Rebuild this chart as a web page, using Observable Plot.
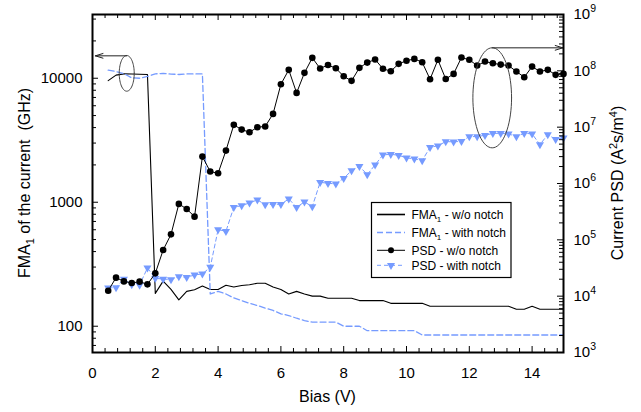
<!DOCTYPE html>
<html><head><meta charset="utf-8">
<script src="https://cdn.jsdelivr.net/npm/d3@7"></script>
<script src="https://cdn.jsdelivr.net/npm/@observablehq/plot@0.6"></script>
<style>body{margin:0;background:#fff}</style>
</head><body><div id="chart"></div>
<script>
// ---------- data ----------
const bias = [0.5,0.75,1,1.25,1.5,1.75,2,2.25,2.5,2.75,3,3.25,3.5,3.75,4,4.25,4.5,4.75,5,5.25,5.5,5.75,6,6.25,6.5,6.75,7,7.25,7.5,7.75,8,8.25,8.5,8.75,9,9.25,9.5,9.75,10,10.25,10.5,10.75,11,11.25,11.5,11.75,12,12.25,12.5,12.75,13,13.25,13.5,13.75,14,14.25,14.5,14.75,15];
// FMA1 (GHz), left axis
const fmaWithout = [9570,10600,10840,10810,10760,10720,
  184,231,198,163,191,197,211,198,
  198,214,207,213,216,222,222,207,
  198,182,191,182,175,175,168,168,
  168,168,161,161,161,161,153,153,
  153,153,153,145,145,145,145,145,
  145,145,145,145,145,145,137,137,
  145,137,137,137,137];
const fmaWith = [11640,11320,10910,10070,10000,10330,
  10840,10960,10810,10720,10840,10840,10840,182,
  191,182,169,161,153,147,140,134,
  126,122,116,111,108,108,108,108,
  100,100,100,92,92,92,92,92,
  92,92,85,85,85,85,85,85,
  85,85,85,85,85,85,85,85,
  85,85,85,85,85];
// Current PSD (A^2 s/m^4), right axis
const psdWithout = [1.25e4,2.13e4,1.83e4,1.71e4,1.81e4,1.62e4,
  2.54e4,6.6e4,1.25e5,4.34e5,3.53e5,2.58e5,3.0e6,1.63e6,
  1.52e6,3.84e6,1.10e7,9.06e6,8.13e6,9.98e6,1.03e7,1.72e7,
  5.78e7,1.04e8,4.06e7,9.2e7,1.70e8,1.10e8,1.27e8,1.11e8,
  8.0e7,6.64e7,1.13e8,1.40e8,1.59e8,1.09e8,9.84e7,1.33e8,
  1.51e8,1.63e8,1.42e8,7.1e7,1.57e8,7.14e7,8.83e7,1.72e8,
  1.57e8,1.24e8,1.46e8,1.36e8,1.29e8,1.24e8,9.73e7,7.71e7,
  1.19e8,9.73e7,1.04e8,8.49e7,8.83e7];
const psdWith = [1.40e4,1.42e4,2.02e4,1.60e4,1.58e4,3.17e4,
  2.07e4,2.02e4,1.96e4,2.22e4,2.16e4,2.38e4,2.48e4,3.27e4,
  1.52e5,1.42e5,3.78e5,4.05e5,4.52e5,5.12e5,4.22e5,4.28e5,
  4.28e5,5.32e5,3.78e5,4.71e5,3.89e5,1.05e6,1.01e6,9.84e5,
  1.24e6,1.69e6,2.02e6,1.44e6,2.14e6,3.22e6,3.30e6,3.17e6,
  2.85e6,2.74e6,2.55e6,4.40e6,4.66e6,5.55e6,5.48e6,5.62e6,
  6.81e6,6.81e6,7.18e6,7.76e6,7.76e6,7.60e6,6.81e6,7.80e6,
  7.60e6,4.91e6,7.40e6,6.07e6,6.46e6];

const seriesNames = ["FMA|1| - w/o notch", "FMA|1| - with notch", "PSD - w/o notch", "PSD - with notch"];

const xMajorTicks = [0,2,4,6,8,10,12,14];
const xMinorTicks = [0.4,0.8,1.2,1.6,2.4,2.8,3.2,3.6,4.4,4.8,5.2,5.6,6.4,6.8,7.2,7.6,8.4,8.8,9.2,9.6,10.4,10.8,11.2,11.6,12.4,12.8,13.2,13.6,14.4,14.8];
const leftMajorTicks = [100,1000,10000];
const leftMinorTicks = [70,80,90,200,300,400,500,600,700,800,900,2000,3000,4000,5000,6000,7000,8000,9000,20000,30000];
const rightMajorTicks = [1e3,1e4,1e5,1e6,1e7,1e8,1e9];
const rightTickExponents = ["3","4","5","6","7","8","9"];
const minorMultipliers = [2,3,4,5,6,7,8,9];
const leftDomain = [61.4, 32660];
const rightDomain = [1e3, 1e9];

// annotations (data coordinates)
const annotationEllipses = [
  {id: "fma", cx: 1.09, cy: 10950, rx: 0.239, ryDecades: 0.144, axis: "left"},
  {id: "psd", cx: 12.73, cy: 3.32e7, rx: 0.616, ryDecades: 0.888, axis: "right"}
];
const annotationArrows = [
  {x1: 1.09, y1: 15160, x2: 0.09, y2: 15160, axis: "left"},
  {x1: 12.73, y1: 2.56e8, x2: 14.98, y2: 2.56e8, axis: "right"}
];

// ---------- helpers ----------
const blue = "#769bff";
const W = 641, H = 412;
const M = {top: 14, right: 78, bottom: 60, left: 92};
const innerW = W - M.left - M.right, innerH = H - M.top - M.bottom;
const kExp = Math.log(leftDomain[1] / leftDomain[0]) / Math.log(rightDomain[1] / rightDomain[0]);
const toLeft = v => leftDomain[0] * Math.pow(v / rightDomain[0], kExp);
const rightMinorTicks = rightMajorTicks.slice(0, -1).flatMap(d => minorMultipliers.map(m => d * m));
const rightLabels = rightMajorTicks.map((v, i) => ({y: toLeft(v) * (i === 0 ? 1.000001 : i === rightMajorTicks.length - 1 ? 0.999999 : 1), e: rightTickExponents[i]}));

const rows = (vals, conv = v => v) => bias.map((b, i) => ({bias: b, v: conv(vals[i])}));
const rFmaWithout = rows(fmaWithout), rFmaWith = rows(fmaWith);
const rPsdWithout = rows(psdWithout, toLeft), rPsdWith = rows(psdWith, toLeft);

const ellipsePts = annotationEllipses.flatMap(e => {
  const cy = e.axis === "right" ? toLeft(e.cy) : e.cy;
  const ry = e.axis === "right" ? e.ryDecades * kExp : e.ryDecades;
  return d3.range(0, 73).map(t => {
    const a = t / 72 * 2 * Math.PI;
    return {id: e.id, x: e.cx + e.rx * Math.cos(a), y: Math.pow(10, Math.log10(cy) + ry * Math.sin(a))};
  });
});
const arrows = annotationArrows.map(a => ({...a,
  y1: a.axis === "right" ? toLeft(a.y1) : a.y1,
  y2: a.axis === "right" ? toLeft(a.y2) : a.y2}));

const triangleDown = {
  draw(context, size) {
    const s = Math.sqrt(size / (Math.sqrt(3) / 4));
    const h = s * Math.sqrt(3) / 2;
    context.moveTo(-s / 2, -h / 3);
    context.lineTo(s / 2, -h / 3);
    context.lineTo(0, 2 * h / 3);
    context.closePath();
  }
};

const majorLen = 6, minorLen = 4;

const plot = Plot.plot({
  width: W, height: H,
  marginTop: M.top, marginRight: M.right, marginBottom: M.bottom, marginLeft: M.left,
  style: {fontFamily: '"Liberation Sans", Arial, Helvetica, sans-serif', fontSize: "15px", background: "#fff", color: "#000", overflow: "visible"},
  x: {domain: [0, 15]},
  y: {type: "log", domain: leftDomain},
  marks: [
    Plot.line(rFmaWithout, {x: "bias", y: "v", stroke: "#000", strokeWidth: 1.1}),
    Plot.line(rFmaWith, {x: "bias", y: "v", stroke: blue, strokeWidth: 1.3, strokeDasharray: "6,3"}),
    Plot.line(rPsdWith, {x: "bias", y: "v", stroke: blue, strokeWidth: 1, strokeDasharray: "4,3"}),
    Plot.dot(rPsdWith, {x: "bias", y: "v", symbol: triangleDown, r: 3, fill: blue, stroke: "none"}),
    Plot.line(rPsdWithout, {x: "bias", y: "v", stroke: "#000", strokeWidth: 1}),
    Plot.dot(rPsdWithout, {x: "bias", y: "v", r: 3.3, fill: "#000", stroke: "none"}),
    Plot.line(ellipsePts, {x: "x", y: "y", z: "id", stroke: "#444", strokeWidth: 1}),
    Plot.arrow(arrows, {x1: "x1", y1: "y1", x2: "x2", y2: "y2", stroke: "#222", strokeWidth: 1, headLength: 12, headAngle: 34}),
    // inward ticks
    Plot.tickX(xMajorTicks, {x: d => d, insetTop: innerH - majorLen, stroke: "#000"}),
    Plot.tickX(xMinorTicks, {x: d => d, insetTop: innerH - minorLen, stroke: "#000"}),
    Plot.tickX(xMajorTicks, {x: d => d, insetBottom: innerH - majorLen, stroke: "#000"}),
    Plot.tickX(xMinorTicks, {x: d => d, insetBottom: innerH - minorLen, stroke: "#000"}),
    Plot.tickY(leftMajorTicks, {y: d => d, insetRight: innerW - majorLen, stroke: "#000"}),
    Plot.tickY(leftMinorTicks, {y: d => d, insetRight: innerW - minorLen, stroke: "#000"}),
    Plot.tickY(rightMajorTicks, {y: d => toLeft(d), insetLeft: innerW - majorLen, stroke: "#000"}),
    Plot.tickY(rightMinorTicks, {y: d => toLeft(d), insetLeft: innerW - minorLen, stroke: "#000"}),
    Plot.frame({stroke: "#000", strokeWidth: 2}),
    Plot.axisX({ticks: xMajorTicks, tickSize: 0, tickPadding: 15, tickFormat: d => String(d), label: null}),
    Plot.axisY({anchor: "left", ticks: leftMajorTicks, tickSize: 0, tickPadding: 10, tickFormat: d => String(d), label: null}),
    // right axis labels (values mapped onto the shared scale)
    Plot.text(rightLabels, {y: "y", text: d => "10^" + d.e, frameAnchor: "right", dx: 10, textAnchor: "start", fontSize: 15, clip: false})
  ]
});

document.getElementById("chart").appendChild(plot);
const svg = d3.select(plot);

// superscripts on right-axis labels
svg.selectAll("text").each(function () {
  const m = /^10\^(\d)$/.exec(this.textContent);
  if (m) {
    const t = d3.select(this);
    t.text("10");
    t.append("tspan").attr("dy", "-7").attr("font-size", 10.5).text(m[1]);
  }
});

// axis titles
const titles = svg.append("g").attr("font-size", 16).attr("fill", "#000").style("white-space", "pre");
titles.append("text").attr("x", (M.left + W - M.right) / 2).attr("y", 401.5).attr("text-anchor", "middle").text("Bias (V)");
const lt = titles.append("text").attr("transform", `translate(29.5,${M.top + innerH / 2}) rotate(-90)`).attr("text-anchor", "middle");
lt.append("tspan").text("FMA");
lt.append("tspan").attr("dy", 4).attr("font-size", 11).text("1");
lt.append("tspan").attr("dy", -4).text(" of the current  (GHz)");
const rt = titles.append("text").attr("transform", `translate(622.5,${M.top + innerH / 2}) rotate(-90)`).attr("text-anchor", "middle");
rt.append("tspan").text("Current PSD (A");
rt.append("tspan").attr("dy", -6).attr("font-size", 11).text("2");
rt.append("tspan").attr("dy", 6).text("s/m");
rt.append("tspan").attr("dy", -6).attr("font-size", 11).text("4");
rt.append("tspan").attr("dy", 6).text(")");

// legend
const legendRows = [214.5, 232.5, 250.3, 265.3];
const legendStyles = [
  {stroke: "#000", dash: null, width: 1.6, marker: null},
  {stroke: blue, dash: "6,3", width: 1.6, marker: null},
  {stroke: "#000", dash: null, width: 1, marker: "dot"},
  {stroke: blue, dash: "4,3", width: 1, marker: "tri"}
];
const lg = svg.append("g").attr("font-size", 12).attr("fill", "#000").attr("text-anchor", "start");
lg.append("rect").attr("x", 371.5).attr("y", 202.5).attr("width", 139.5).attr("height", 75)
  .attr("fill", "#fff").attr("stroke", "#000").attr("stroke-width", 1.2);
seriesNames.forEach((name, i) => {
  const y = legendRows[i], st = legendStyles[i];
  lg.append("line").attr("x1", 377).attr("x2", 405).attr("y1", y).attr("y2", y)
    .attr("stroke", st.stroke).attr("stroke-width", st.width).attr("stroke-dasharray", st.dash);
  if (st.marker === "dot") lg.append("circle").attr("cx", 391).attr("cy", y).attr("r", 3).attr("fill", "#000");
  if (st.marker === "tri") lg.append("path").attr("d", d3.symbol(triangleDown, Math.PI * 9)()).attr("transform", `translate(391,${y})`).attr("fill", blue);
  const parts = name.split("|");
  const t = lg.append("text").attr("x", 411.5).attr("y", y + 4.3).attr("text-anchor", "start");
  t.append("tspan").text(parts[0]);
  if (parts.length > 1) {
    t.append("tspan").attr("dy", 3).attr("font-size", 8).text(parts[1]);
    t.append("tspan").attr("dy", -3).text(parts[2]);
  }
});
</script>
</body></html>
